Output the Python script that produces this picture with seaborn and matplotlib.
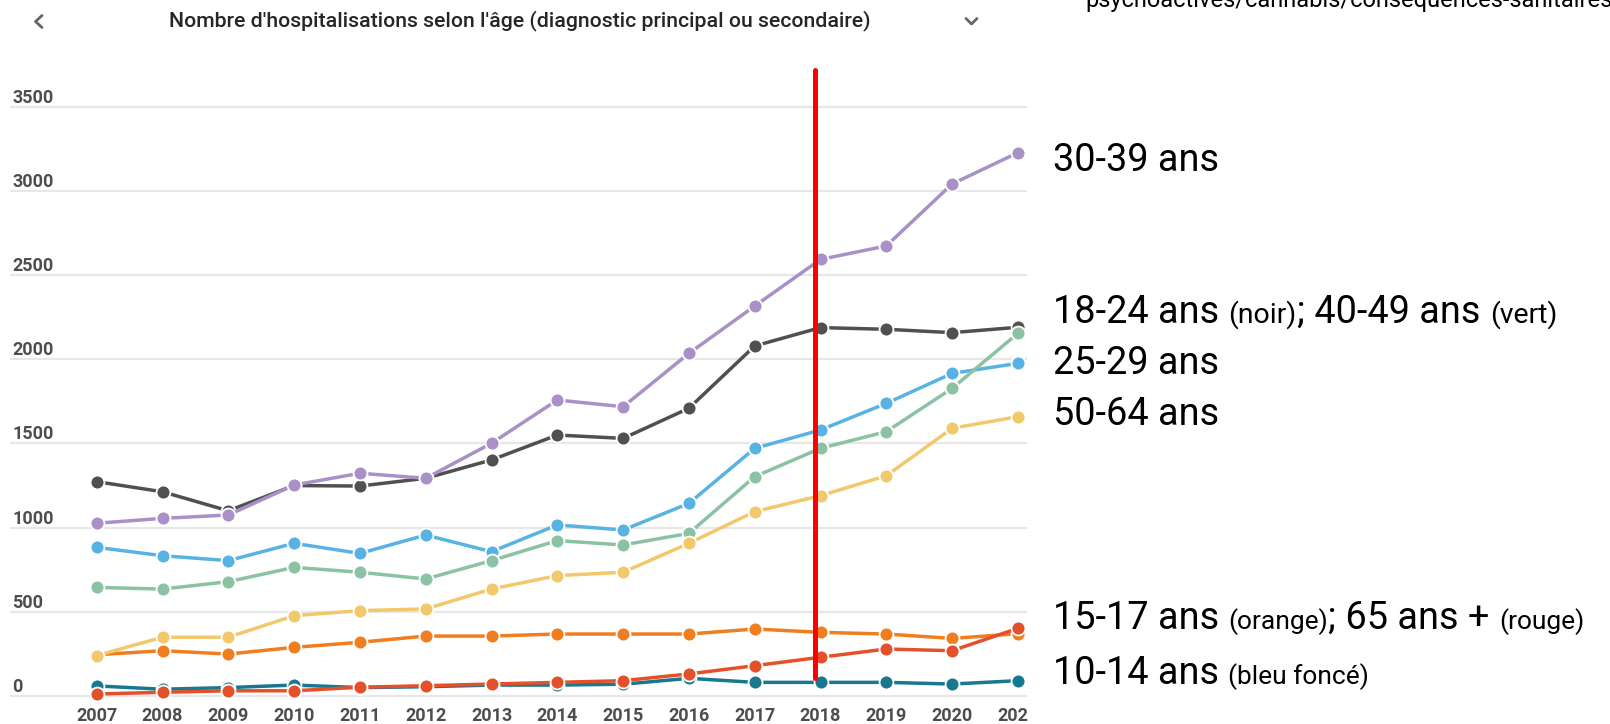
import matplotlib
matplotlib.use("Agg")
import matplotlib.pyplot as plt
from matplotlib.lines import Line2D
from matplotlib.patches import Rectangle
import seaborn as sns
import pandas as pd

# ---------------- data ----------------
years = list(range(2007, 2022))
ans_10_14 = [60, 40, 50, 65, 50, 55, 65, 65, 70, 105, 81, 81, 81, 71, 91]
ans_15_17 = [245, 269, 249, 289, 319, 356, 356, 368, 368, 368, 398, 378, 368, 342, 370]
ans_18_24 = [1273, 1213, 1100, 1250, 1247, 1293, 1402, 1550, 1530, 1709, 2079, 2188, 2178, 2158, 2190]
ans_25_29 = [883, 833, 804, 907, 847, 956, 857, 1016, 986, 1144, 1471, 1580, 1738, 1916, 1976]
ans_30_39 = [1026, 1055, 1075, 1253, 1323, 1293, 1501, 1758, 1718, 2035, 2316, 2593, 2673, 3041, 3227]
ans_40_49 = [645, 635, 679, 764, 735, 695, 804, 923, 897, 966, 1303, 1471, 1570, 1827, 2154]
ans_50_64 = [240, 349, 349, 477, 507, 517, 635, 715, 735, 907, 1095, 1190, 1308, 1590, 1659]
ans_65_plus = [12, 22, 31, 31, 52, 61, 71, 81, 91, 131, 180, 230, 279, 269, 402]

groups = ["10-14 ans", "15-17 ans", "18-24 ans", "25-29 ans",
          "30-39 ans", "40-49 ans", "50-64 ans", "65 ans +"]
series = [ans_10_14, ans_15_17, ans_18_24, ans_25_29,
          ans_30_39, ans_40_49, ans_50_64, ans_65_plus]
colors = ["#17788f", "#f07d1e", "#505050", "#58b3e4",
          "#a991c8", "#8cc2a4", "#f1c86a", "#e4502a"]
y_ticks = [0, 500, 1000, 1500, 2000, 2500, 3000, 3500]
x_tick_labels = [str(y) for y in years]

title = "Nombre d'hospitalisations selon l'âge (diagnostic principal ou secondaire)"
url_text = "psychoactives/cannabis/consequences-sanitaires"
red_line_x = 2017.92

# ---------------- figure ----------------
W, H = 1610, 724
sns.set_style("white")
plt.rcParams["font.family"] = ["Roboto", "DejaVu Sans"]

fig = plt.figure(figsize=(W / 100, H / 100), dpi=100)
fig.patch.set_facecolor("white")

ax_l, ax_r, ax_t, ax_b = 10, 1027, 60, 700
ax = fig.add_axes([ax_l / W, (H - ax_b) / H, (ax_r - ax_l) / W, (ax_b - ax_t) / H])

df = pd.DataFrame({
    "year": [yr for s in series for yr in years],
    "value": [v for s in series for v in s],
    "group": [g for g, s in zip(groups, series) for _ in years],
})
sns.lineplot(data=df, x="year", y="value", hue="group", hue_order=groups,
             palette=dict(zip(groups, colors)), marker="o", markersize=10,
             markeredgecolor="white", markeredgewidth=1.3, linewidth=2.5,
             legend=False, ax=ax, clip_on=False)

# pixel mapping of the original screenshot
px_year = 65.8
x0_px = 96.7
ax.set_xlim(2007 - (x0_px - ax_l) / px_year, 2007 + (ax_r - x0_px) / px_year)
px_unit = (696 - 106.7) / 3500
ax.set_ylim(-(ax_b - 696) / px_unit, 3500 + (106.7 - ax_t) / px_unit)

ax.set_yticks(y_ticks)
ax.set_xticks(years)
ax.set_xticklabels(x_tick_labels)
ax.grid(axis="y", color="#e7e7e7", linewidth=1.6)
ax.grid(axis="x", visible=False)
ax.set_axisbelow(True)
for sp in ax.spines.values():
    sp.set_visible(False)
ax.set_xlabel("")
ax.set_ylabel("")
ax.tick_params(axis="y", length=0, pad=-1.5, labelsize=13, labelcolor="#4d4d4d")
ax.tick_params(axis="x", length=0, pad=5, labelsize=13, labelcolor="#4d4d4d")
for lab in ax.get_yticklabels():
    lab.set_horizontalalignment("left")
    lab.set_verticalalignment("bottom")
    lab.set_fontweight("bold")
for lab in ax.get_xticklabels():
    lab.set_fontweight("bold")

# red vertical marker line
ax.axvline(red_line_x, ymin=(ax_b - 678) / (ax_b - ax_t), ymax=(ax_b - 70) / (ax_b - ax_t),
           color="#ff0000", linewidth=3.6, zorder=20)

# hide the cut-off part of the last tick label (screenshot edge)
fig.add_artist(Rectangle((1028 / W, 0), 20 / W, 24 / H, transform=fig.transFigure,
                         facecolor="white", edgecolor="none", zorder=30))

# header
fig.text(520 / W, 1 - 21 / H, title, ha="center", va="center", fontsize=15.3,
         fontweight="medium", color="#262626")
fig.add_artist(Line2D([42 / W, 35.5 / W, 42 / W], [1 - 15.5 / H, 1 - 21.5 / H, 1 - 27.5 / H],
                      transform=fig.transFigure, color="#666666", linewidth=2))
fig.add_artist(Line2D([966 / W, 971.5 / W, 977 / W], [1 - 18.5 / H, 1 - 24 / H, 1 - 18.5 / H],
                      transform=fig.transFigure, color="#666666", linewidth=2))
fig.text(1085 / W, 1 - 7 / H, url_text, ha="left", va="baseline", fontsize=17, color="black")

# right-hand annotations (mixed font sizes)
BIG = 27.3
SMALL = 20.5
SMALL2 = 19.0
renderer = fig.canvas.get_renderer()


def rich(x_px, base_px, parts):
    x = x_px
    for i, (txt, size) in enumerate(parts):
        if i > 0 and not txt.startswith(";"):
            x += 0.25 * BIG * 100 / 72
        t = fig.text(x / W, 1 - base_px / H, txt, fontsize=size, ha="left",
                     va="baseline", color="black")
        bb = t.get_window_extent(renderer=renderer)
        x = bb.x1


rich(1053, 171, [("30-39 ans", BIG)])
rich(1053, 323, [("18-24 ans", BIG), ("(noir)", SMALL), ("; 40-49 ans", BIG), ("(vert)", SMALL)])
rich(1053, 374, [("25-29 ans", BIG)])
rich(1053, 425, [("50-64 ans", BIG)])
rich(1053, 629, [("15-17 ans", BIG), ("(orange)", SMALL2), ("; 65 ans +", BIG), ("(rouge)", SMALL2)])
rich(1053, 684, [("10-14 ans", BIG), ("(bleu foncé)", SMALL2)])

fig.savefig("out.png", dpi=100, facecolor="white")
